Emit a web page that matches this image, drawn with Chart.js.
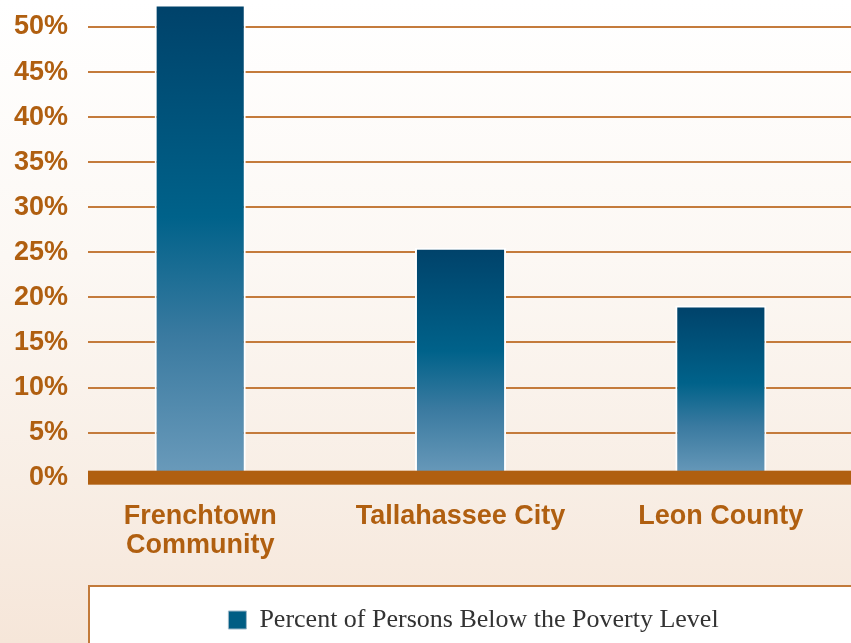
<!DOCTYPE html>
<html>
<head>
<meta charset="utf-8">
<script src="https://cdn.jsdelivr.net/npm/chart.js@4.4.1/dist/chart.umd.min.js"></script>
<style>
  html, body { margin: 0; padding: 0; }
  body {
    width: 851px; height: 643px; overflow: hidden;
    background: linear-gradient(to bottom, #ffffff 0%, #fcf8f4 40%, #f8eee5 75%, #f6e6d9 100%);
  }
  #wrap { position: relative; width: 851px; height: 643px; }
</style>
</head>
<body>
<div id="wrap"><canvas id="povertyChart"></canvas></div>
<script>
// Places and their poverty rate (%)
var places = [['Frenchtown', 'Community'], 'Tallahassee City', 'Leon County'];
var povertyRates = [52.5, 25.5, 19.1];
var seriesName = 'Percent of Persons Below the Poverty Level';
var yMin = 0, yMax = 53, yStep = 5;

var brown = '#b05f10';
var gridBrown = '#c47b3c';
var legendBlue = '#005d84';

// gridlines start a bit right of the axis labels, band at 0 drawn over bar bottoms
var gridLeft = 88;
var povertyPlugin = {
  id: 'povertyDecor',
  afterLayout: function (chart) {
    // legend sits centered in the framed box, not the chart area
    chart.legend.left += 13;
    chart.legend.right += 13;
  },
  beforeDatasetsDraw: function (chart) {
    var ctx = chart.ctx, y = chart.scales.y;
    ctx.save();
    ctx.strokeStyle = gridBrown;
    ctx.lineWidth = 2;
    y.ticks.forEach(function (t) {
      if (t.value === 0) return;
      var py = Math.round(y.getPixelForValue(t.value));
      ctx.beginPath();
      ctx.moveTo(gridLeft, py);
      ctx.lineTo(chart.width, py);
      ctx.stroke();
    });
    ctx.restore();
  },
  afterDatasetsDraw: function (chart) {
    var ctx = chart.ctx, y = chart.scales.y;
    var py = y.getPixelForValue(0);
    ctx.save();
    ctx.fillStyle = brown;
    ctx.fillRect(gridLeft, py - 7, chart.width - gridLeft, 14);
    ctx.restore();
  },
  beforeDraw: function (chart) {
    // white frame behind the legend
    var ctx = chart.ctx, lg = chart.legend;
    if (!lg) return;
    var top = lg.top + 1;
    ctx.save();
    ctx.fillStyle = '#ffffff';
    ctx.fillRect(gridLeft, top, chart.width, chart.height);
    ctx.strokeStyle = '#c27a3a';
    ctx.lineWidth = 2;
    ctx.strokeRect(gridLeft + 1, top + 1, chart.width + 10, chart.height);
    ctx.restore();
  }
};

function barGradient(c) {
  var chart = c.chart;
  if (c.type !== 'data' || !chart.chartArea) return legendBlue;
  var y = chart.scales.y;
  var top = y.getPixelForValue(c.raw);
  var bottom = y.getPixelForValue(0);
  var g = chart.ctx.createLinearGradient(0, top, 0, bottom);
  g.addColorStop(0, '#00426a');
  g.addColorStop(0.45, '#00628a');
  g.addColorStop(0.7, '#3a7aa0');
  g.addColorStop(1, '#6b9bbb');
  return g;
}

var tickFont = { family: '"Liberation Sans", Arial, sans-serif', size: 27, weight: 'bold', lineHeight: 1.08 };

new Chart(document.getElementById('povertyChart'), {
  type: 'bar',
  data: {
    labels: places,
    datasets: [
      {
        label: seriesName,
        data: povertyRates,
        backgroundColor: barGradient,
        borderColor: '#ffffff',
        borderWidth: 2,
        barPercentage: 0.35,
        categoryPercentage: 1,
      },
    ],
  },
  options: {
    responsive: true,
    maintainAspectRatio: false,
    animation: false,
    layout: { padding: { left: 12, top: 0, right: 0, bottom: 0 } },
    scales: {
      x: {
        grid: { display: false, drawTicks: false },
        border: { display: false },
        ticks: {
          color: brown,
          font: tickFont,
          padding: 24,
          maxRotation: 0,
          autoSkip: false,
        },
      },
      y: {
        min: yMin,
        max: yMax,
        grid: { display: false, drawTicks: false },
        border: { display: false },
        ticks: {
          stepSize: yStep,
          includeBounds: false,
          color: brown,
          font: tickFont,
          padding: 2,
          callback: function (v) { return v + '%'; },
        },
        afterFit: function (s) { s.paddingTop = 0; s.paddingBottom = 0; },
      },
    },
    plugins: {
      tooltip: { enabled: false },
      legend: {
        position: 'bottom',
        fullSize: false,
        labels: {
          color: '#333333',
          font: { family: '"Liberation Serif", "Times New Roman", serif', size: 26 },
          boxWidth: 18,
          boxHeight: 18,
          padding: 23,
          generateLabels: function (chart) {
            var items = Chart.defaults.plugins.legend.labels.generateLabels(chart);
            items.forEach(function (it) {
              it.fillStyle = legendBlue;
              it.strokeStyle = '#9db8c9';
              it.lineWidth = 1;
            });
            return items;
          },
        },
      },
    },
  },
  plugins: [povertyPlugin],
});
</script>
</body>
</html>
